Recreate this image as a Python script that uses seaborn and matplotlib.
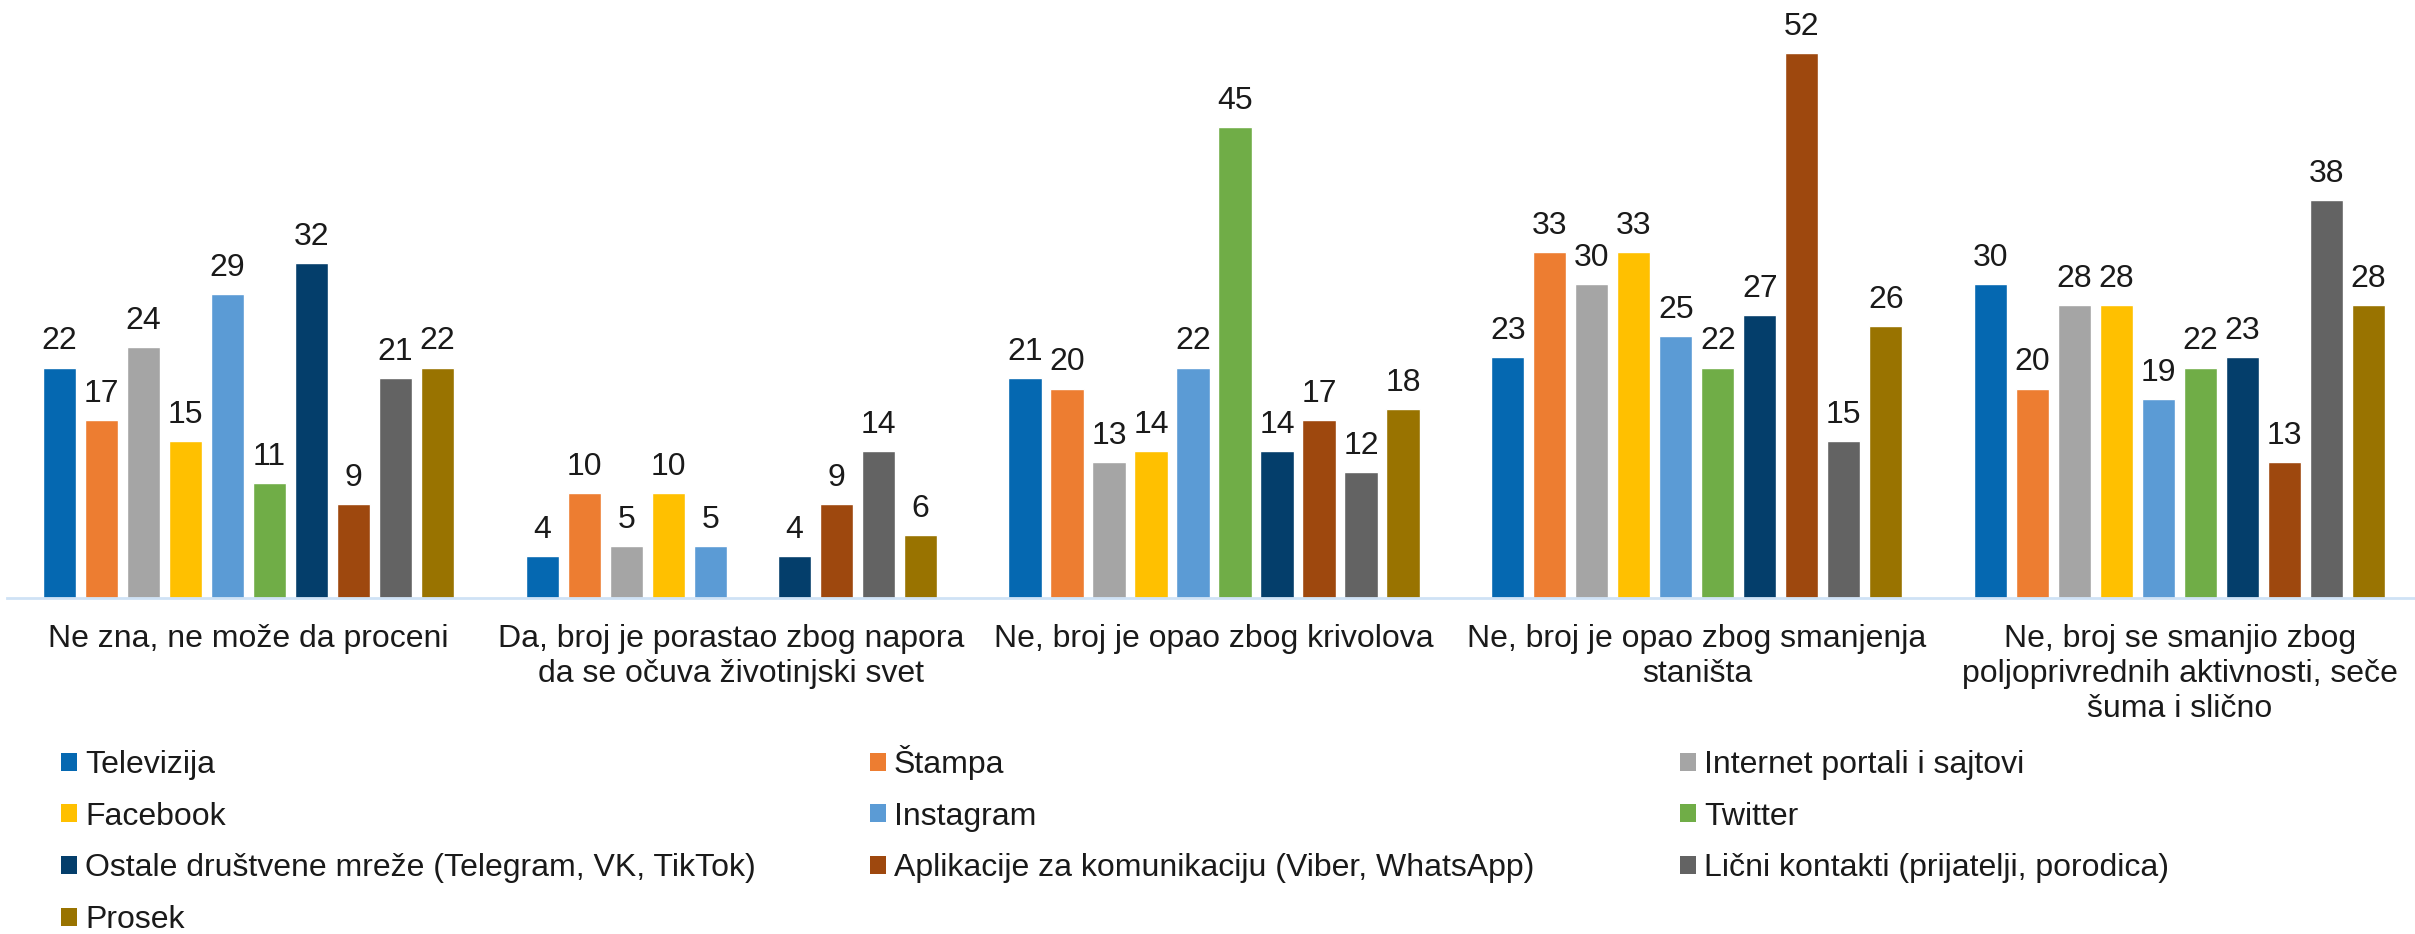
import numpy as np
import pandas as pd
import seaborn as sns
import matplotlib.pyplot as plt
from matplotlib.patches import Patch

# Answer categories (x axis)
categories = [
    "Ne zna, ne može da proceni",
    "Da, broj je porastao zbog napora\nda se očuva životinjski svet",
    "Ne, broj je opao zbog krivolova",
    "Ne, broj je opao zbog smanjenja\nstaništa",
    "Ne, broj se smanjio zbog\npoljoprivrednih aktivnosti, seče\nšuma i slično",
]

# Information sources (series)
series = [
    "Televizija",
    "Štampa",
    "Internet portali i sajtovi",
    "Facebook",
    "Instagram",
    "Twitter",
    "Ostale društvene mreže (Telegram, VK, TikTok)",
    "Aplikacije za komunikaciju (Viber, WhatsApp)",
    "Lični kontakti (prijatelji, porodica)",
    "Prosek",
]

televizija = [22, 4, 21, 23, 30]
stampa = [17, 10, 20, 33, 20]
internet = [24, 5, 13, 30, 28]
facebook = [15, 10, 14, 33, 28]
instagram = [29, 5, 22, 25, 19]
twitter = [11, np.nan, 45, 22, 22]
ostale = [32, 4, 14, 27, 23]
aplikacije = [9, 9, 17, 52, 13]
licni = [21, 14, 12, 15, 38]
prosek = [22, 6, 18, 26, 28]

values = [televizija, stampa, internet, facebook, instagram,
          twitter, ostale, aplikacije, licni, prosek]

colors = ["#0568B1", "#ED7D31", "#A5A5A5", "#FFC000", "#5B9BD5",
          "#70AD47", "#043E6B", "#9E480E", "#636363", "#997300"]

rows = []
for name, vals in zip(series, values):
    for cat, v in zip(categories, vals):
        rows.append({"kategorija": cat, "izvor": name, "procenat": v})
df = pd.DataFrame(rows).dropna()

sns.set_theme(style="white")
plt.rcParams["font.family"] = ["Liberation Sans", "DejaVu Sans"]
FS = 23
TXT = "#1a1a1a"

W, H = 2415, 934
fig = plt.figure(figsize=(W / 100, H / 100), dpi=100)
base = 598
ax = fig.add_axes([7 / W, (H - base) / H, 2414 / W, base / H])

sns.barplot(data=df, x="kategorija", y="procenat", hue="izvor",
            order=categories, hue_order=series, palette=colors,
            saturation=1, width=0.87, gap=0.21, errorbar=None,
            legend=False, ax=ax)

for cont in ax.containers:
    ax.bar_label(cont, fmt="{:.0f}", padding=8, fontsize=FS, color=TXT)

ax.set_xlim(-0.5, 4.5)
ax.set_ylim(0, 57.1)
ax.set_xlabel("")
ax.set_ylabel("")
ax.set_yticks([])
ax.set_xticks(range(len(categories)))
ax.set_xticklabels(categories, fontsize=FS, color=TXT, linespacing=1.2)
ax.tick_params(axis="x", length=0, pad=19)
for side in ["top", "right", "left"]:
    ax.spines[side].set_visible(False)
ax.spines["bottom"].set_color("#CFE2F5")
ax.spines["bottom"].set_linewidth(2)

# Legend laid out in three fixed columns, filled row by row
handles = [Patch(facecolor=c, edgecolor="none") for c in colors]
col_x = [61, 870, 1680]
top_y = 750
legends = []
for ci, x in enumerate(col_x):
    idx = list(range(ci, len(series), 3))
    leg = fig.legend([handles[i] for i in idx], [series[i] for i in idx],
                     loc="upper left", bbox_to_anchor=(x / W, 1 - top_y / H),
                     frameon=False, fontsize=FS, handlelength=0.5,
                     handleheight=0.5, handletextpad=0.25, labelspacing=0.68,
                     borderpad=0, borderaxespad=0, labelcolor=TXT)
    legends.append(leg)

# Keep the rows of all three columns on a common baseline
fig.canvas.draw()
renderer = fig.canvas.get_renderer()
ref_y = legends[0].get_texts()[0].get_window_extent(renderer).y0
for ci, leg in enumerate(legends[1:], start=1):
    dy = ref_y - leg.get_texts()[0].get_window_extent(renderer).y0
    leg.set_bbox_to_anchor((col_x[ci] / W, 1 - top_y / H + dy / H),
                           transform=fig.transFigure)

fig.savefig("out.png", dpi=100)
